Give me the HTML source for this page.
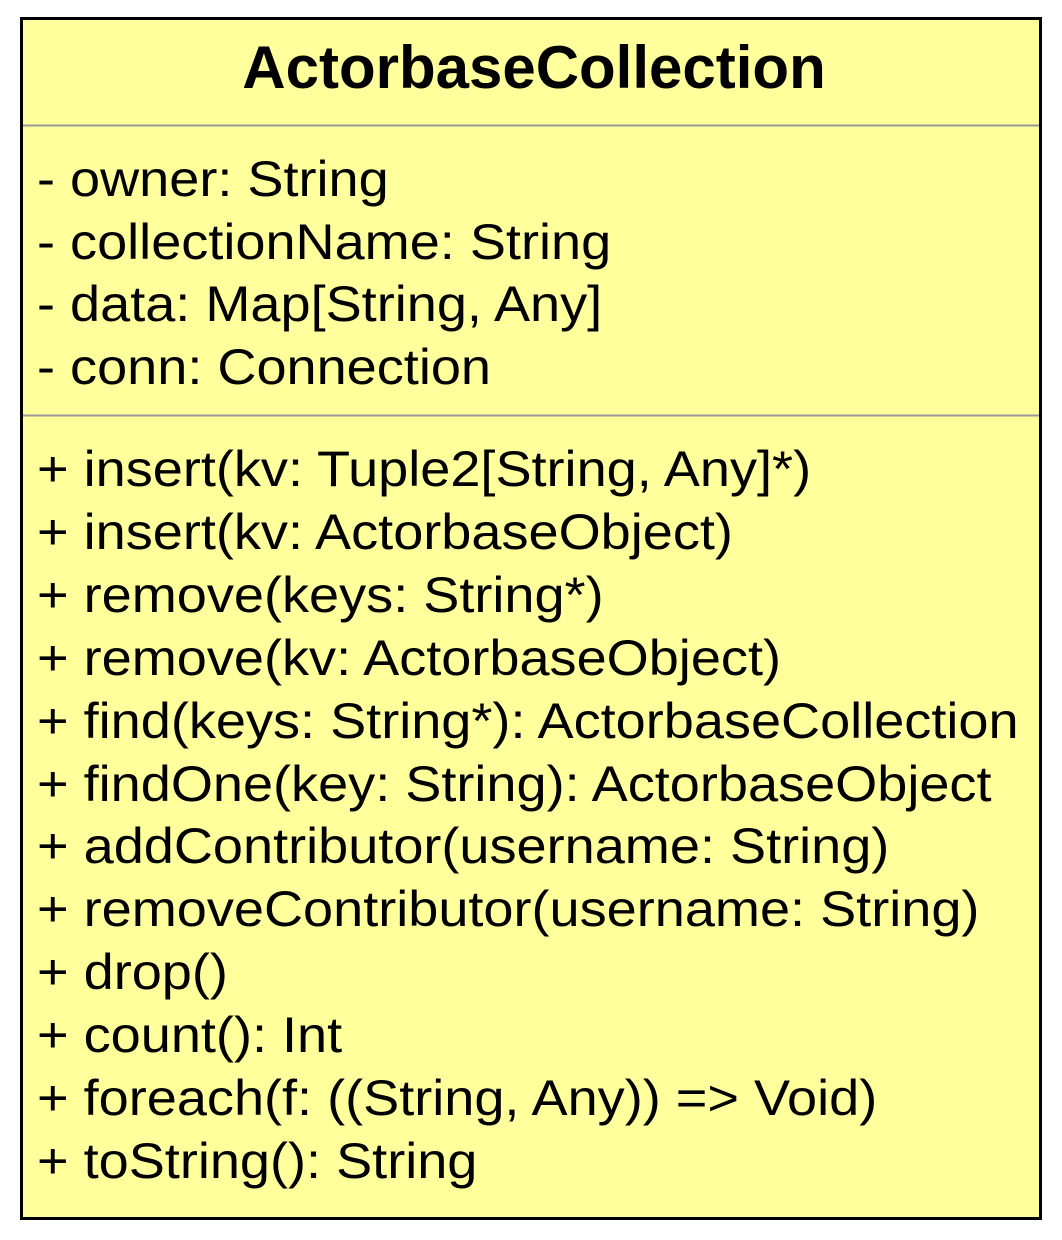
<!DOCTYPE html>
<html><head><meta charset="utf-8"><style>
html,body{margin:0;padding:0;background:#fff;}
svg{display:block;}
text{font-family:"Liberation Sans",Arial,sans-serif;fill:#000;}
.m{font-size:50px;}
</style></head><body>
<svg width="1062" height="1240" viewBox="0 0 1062 1240" xmlns="http://www.w3.org/2000/svg">
<rect x="21.5" y="18.5" width="1019" height="1200" fill="#ffff9c" stroke="#000" stroke-width="3"/>
<line x1="23" y1="125.5" x2="1039" y2="125.5" stroke="#999" stroke-width="2"/>
<line x1="23" y1="415.5" x2="1039" y2="415.5" stroke="#999" stroke-width="2"/>
<text x="534" y="88" text-anchor="middle" font-size="60" font-weight="bold">ActorbaseCollection</text>
<g class="m" transform="translate(37,0) scale(1.082,1)">
<text x="0" y="196">- owner: String</text>
<text x="0" y="259">- collectionName: String</text>
<text x="0" y="321">- data: Map[String, Any]</text>
<text x="0" y="384">- conn: Connection</text>
<text x="0" y="486">+ insert(kv: Tuple2[String, Any]*)</text>
<text x="0" y="549">+ insert(kv: ActorbaseObject)</text>
<text x="0" y="612">+ remove(keys: String*)</text>
<text x="0" y="675">+ remove(kv: ActorbaseObject)</text>
<text x="0" y="738">+ find(keys: String*): ActorbaseCollection</text>
<text x="0" y="801">+ findOne(key: String): ActorbaseObject</text>
<text x="0" y="863">+ addContributor(username: String)</text>
<text x="0" y="926">+ removeContributor(username: String)</text>
<text x="0" y="989">+ drop()</text>
<text x="0" y="1052">+ count(): Int</text>
<text x="0" y="1115">+ foreach(f: ((String, Any)) =&gt; Void)</text>
<text x="0" y="1178">+ toString(): String</text>
</g>
</svg>
</body></html>
